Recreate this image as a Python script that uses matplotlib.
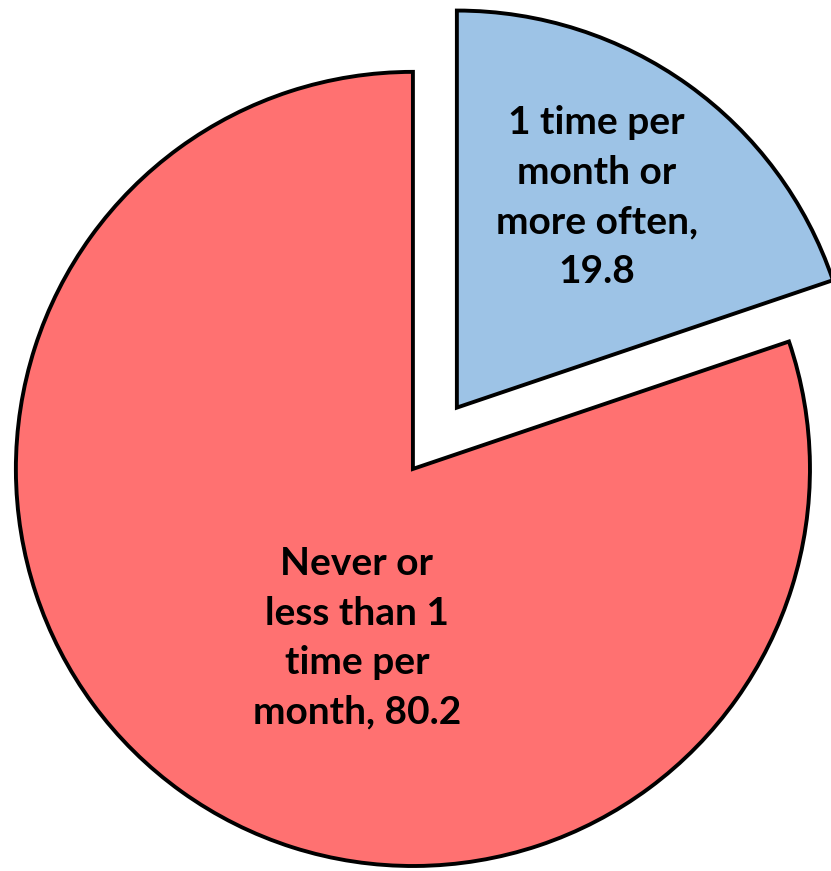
import matplotlib.pyplot as plt

labels = ["1 time per\nmonth or\nmore often", "Never or\nless than 1\ntime per\nmonth"]
seps = [",\n", ", "]
values = [19.8, 80.2]
colors = ["#9DC3E6", "#FF7171"]
explode = [0.19, 0]

fig = plt.figure(figsize=(8.31, 8.71), dpi=100)
ax = fig.add_axes([0, 0, 1, 1])

wedges, _ = ax.pie(values, colors=colors, explode=explode, startangle=90,
                   counterclock=False, radius=1,
                   wedgeprops=dict(edgecolor="black", linewidth=2.8))

ax.set_aspect("auto")
ax.set_xlim(-1.040, 1.053)
ax.set_ylim(-1.0126, 1.181)
ax.axis("off")

# label positions (data coords, pie radius = 1)
pos = [(0.463, 0.685), (-0.141, -0.426)]
for lab, sep, v, (x, y) in zip(labels, seps, values, pos):
    ax.text(x, y, f"{lab}{sep}{v}", ha="center", va="center",
            fontsize=28, fontweight="bold", family="Lato", linespacing=1.5)

fig.savefig("out.png", dpi=100)
